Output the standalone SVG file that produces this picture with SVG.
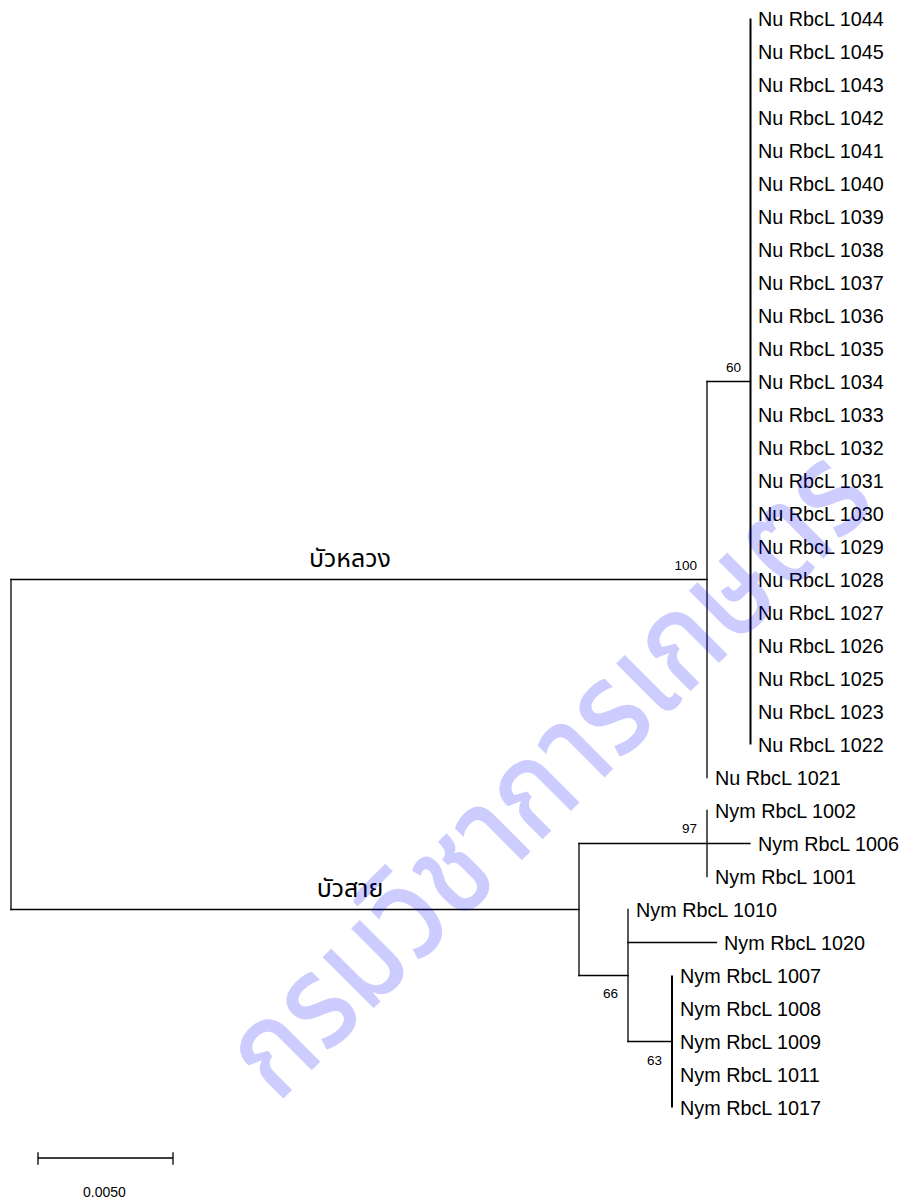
<svg xmlns="http://www.w3.org/2000/svg" width="905" height="1201" viewBox="0 0 905 1201">
<style>
.br{stroke:#000;stroke-width:1.3;fill:none;stroke-linecap:square}
.tk{stroke:#000;stroke-width:2;fill:none}
.tip{font-family:"Liberation Sans",Arial,sans-serif;font-size:19.8px;fill:#000}
.bs{font-family:"Liberation Sans",Arial,sans-serif;font-size:13.5px;fill:#000;text-anchor:end}
.th{font-family:"Noto Sans Thai","Noto Sans Thai Looped","Noto Sans","DejaVu Sans",sans-serif;font-size:25px;fill:#000;text-anchor:middle}
.wm{font-family:"Noto Sans Thai","Noto Sans Thai Looped","Noto Sans","DejaVu Sans",sans-serif;font-size:132px;font-weight:500;fill:#0000ff;fill-opacity:0.2;text-anchor:middle}
</style>
<rect width="905" height="1201" fill="#fff"/>
<g id="connectors">
<path class="br" d="M11,579.5 V909.5"/>
<path class="br" d="M11,579.5 H707"/>
<path class="br" d="M707,381.5 V777.5"/>
<path class="br" d="M707,381.5 H750.5"/>
<path class="tk" d="M750.5,18.5 V744.5"/>
<path class="br" d="M11,909.5 H579"/>
<path class="br" d="M579,843.5 V975.5"/>
<path class="br" d="M579,843.5 H750"/>
<path class="br" d="M707,810.5 V876.5"/>
<path class="br" d="M579,975.5 H628"/>
<path class="br" d="M628,909.5 V1041.5"/>
<path class="br" d="M628,942.5 H716.5"/>
<path class="br" d="M628,1041.5 H672"/>
<path class="tk" d="M672,975.5 V1107.5"/>
</g>
<g id="tips-nu">
<text class="tip" x="758" y="25.5">Nu RbcL 1044</text>
<text class="tip" x="758" y="58.5">Nu RbcL 1045</text>
<text class="tip" x="758" y="91.5">Nu RbcL 1043</text>
<text class="tip" x="758" y="124.5">Nu RbcL 1042</text>
<text class="tip" x="758" y="157.5">Nu RbcL 1041</text>
<text class="tip" x="758" y="190.5">Nu RbcL 1040</text>
<text class="tip" x="758" y="223.5">Nu RbcL 1039</text>
<text class="tip" x="758" y="256.5">Nu RbcL 1038</text>
<text class="tip" x="758" y="289.5">Nu RbcL 1037</text>
<text class="tip" x="758" y="322.5">Nu RbcL 1036</text>
<text class="tip" x="758" y="355.5">Nu RbcL 1035</text>
<text class="tip" x="758" y="388.5">Nu RbcL 1034</text>
<text class="tip" x="758" y="421.5">Nu RbcL 1033</text>
<text class="tip" x="758" y="454.5">Nu RbcL 1032</text>
<text class="tip" x="758" y="487.5">Nu RbcL 1031</text>
<text class="tip" x="758" y="520.5">Nu RbcL 1030</text>
<text class="tip" x="758" y="553.5">Nu RbcL 1029</text>
<text class="tip" x="758" y="586.5">Nu RbcL 1028</text>
<text class="tip" x="758" y="619.5">Nu RbcL 1027</text>
<text class="tip" x="758" y="652.5">Nu RbcL 1026</text>
<text class="tip" x="758" y="685.5">Nu RbcL 1025</text>
<text class="tip" x="758" y="718.5">Nu RbcL 1023</text>
<text class="tip" x="758" y="751.5">Nu RbcL 1022</text>
<text class="tip" x="715" y="784.5">Nu RbcL 1021</text>
</g>
<g id="tips-nym">
<text class="tip" x="715" y="817.5">Nym RbcL 1002</text>
<text class="tip" x="758" y="850.5">Nym RbcL 1006</text>
<text class="tip" x="715" y="883.5">Nym RbcL 1001</text>
<text class="tip" x="636" y="916.5">Nym RbcL 1010</text>
<text class="tip" x="724" y="949.5">Nym RbcL 1020</text>
<text class="tip" x="680" y="982.5">Nym RbcL 1007</text>
<text class="tip" x="680" y="1015.5">Nym RbcL 1008</text>
<text class="tip" x="680" y="1048.5">Nym RbcL 1009</text>
<text class="tip" x="680" y="1081.5">Nym RbcL 1011</text>
<text class="tip" x="680" y="1114.5">Nym RbcL 1017</text>
</g>
<g id="support">
<text class="bs" x="741" y="372">60</text>
<text class="bs" x="697" y="570">100</text>
<text class="bs" x="697" y="833">97</text>
<text class="bs" x="618" y="998">66</text>
<text class="bs" x="662" y="1065">63</text>
</g>
<g id="clade-labels">
<text class="th" x="350" y="567">บัวหลวง</text>
<text class="th" x="350" y="897">บัวสาย</text>
</g>
<g id="scale">
<path class="br" d="M38,1158 H173 M38,1153 V1164 M173,1153 V1164"/>
<text x="104.5" y="1197" style="font-family:'Liberation Sans',Arial,sans-serif;font-size:14px;text-anchor:middle;fill:#000">0.0050</text>
</g>
<g id="watermark">
<text class="wm" transform="translate(578,804) rotate(-45)" x="0" y="0" textLength="850" lengthAdjust="spacingAndGlyphs">กรมวิชาการเกษตร</text>
</g>
</svg>
